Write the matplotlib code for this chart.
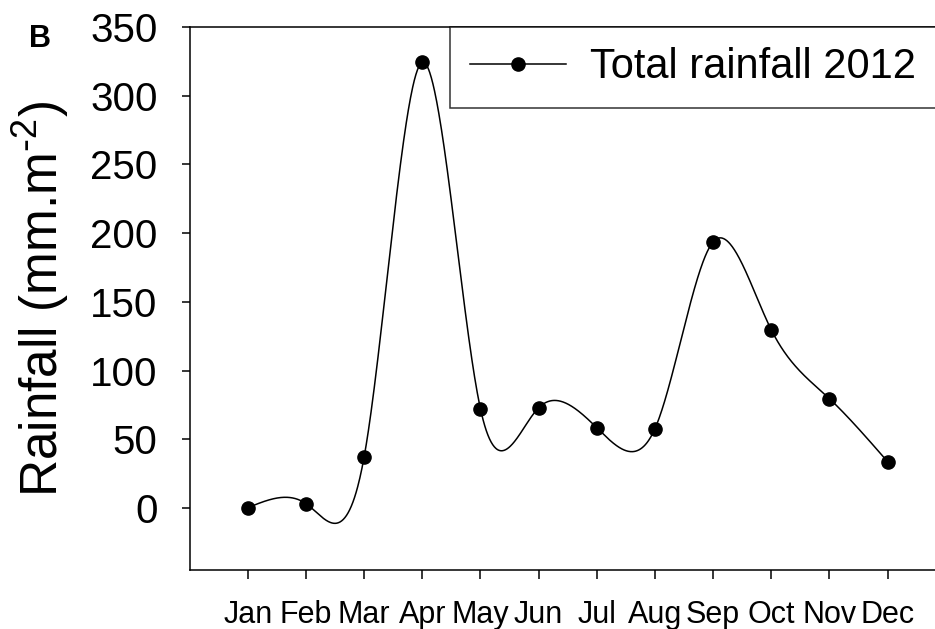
import numpy as np
import matplotlib
matplotlib.use('Agg')
import matplotlib.pyplot as plt

plt.rcParams['font.family'] = ['Liberation Sans', 'DejaVu Sans']
plt.rcParams['mathtext.default'] = 'regular'

months = ['Jan', 'Feb', 'Mar', 'Apr', 'May', 'Jun', 'Jul', 'Aug', 'Sep', 'Oct', 'Nov', 'Dec']
rainfall = [0.3, 3.3, 37.2, 324.3, 72.3, 73.0, 58.5, 57.8, 193.7, 129.7, 79.6, 33.8]
y_ticks = [0, 50, 100, 150, 200, 250, 300, 350]


def tension_spline(x, y, s=1.6, n=1200):
    # natural spline under tension, smooth curve through the monthly points
    x = np.asarray(x, float)
    y = np.asarray(y, float)
    k = len(x)
    h = np.diff(x)
    d = np.diff(y) / h
    A = np.zeros((k, k))
    r = np.zeros(k)
    A[0, 0] = 1
    A[-1, -1] = 1
    for i in range(1, k - 1):
        a0 = 1 / h[i - 1] - s / np.sinh(s * h[i - 1])
        b0 = s / np.tanh(s * h[i - 1]) - 1 / h[i - 1]
        a1 = 1 / h[i] - s / np.sinh(s * h[i])
        b1 = s / np.tanh(s * h[i]) - 1 / h[i]
        A[i, i - 1] = a0
        A[i, i] = b0 + b1
        A[i, i + 1] = a1
        r[i] = s * s * (d[i] - d[i - 1])
    M = np.linalg.solve(A, r)
    xs = np.linspace(x[0], x[-1], n)
    idx = np.clip(np.searchsorted(x, xs) - 1, 0, k - 2)
    x0, x1 = x[idx], x[idx + 1]
    hh = x1 - x0
    ys = ((M[idx] * np.sinh(s * (x1 - xs)) + M[idx + 1] * np.sinh(s * (xs - x0))) / (s * s * np.sinh(s * hh))
          + (y[idx] - M[idx] / s ** 2) * (x1 - xs) / hh
          + (y[idx + 1] - M[idx + 1] / s ** 2) * (xs - x0) / hh)
    return xs, ys


W, H = 935, 629
fig = plt.figure(figsize=(W / 100, H / 100), dpi=100)
left, right, top, bottom = 189.6, 945.8, 27, 570
ax = fig.add_axes([left / W, 1 - bottom / H, (right - left) / W, (bottom - top) / H])

x = np.arange(1, len(months) + 1)
xs, ys = tension_spline(x, rainfall)
ax.plot(xs, ys, color='black', lw=1.1)
ax.plot(x, rainfall, 'o', color='black', markersize=9.5)

# legend proxy: line with marker
ax.plot([], [], '-o', color='black', lw=1.1, markersize=9.5, label='Total rainfall 2012')

ax.set_xlim(0, 13)
ax.set_ylim(-45, 350)
ax.set_xticks(x)
ax.set_xticklabels(months, fontsize=22)
ax.set_yticks(y_ticks)
ax.set_yticklabels([str(v) for v in y_ticks], fontsize=29)
ax.tick_params(axis='x', direction='out', length=6.5, width=1.1, pad=15)
ax.tick_params(axis='y', direction='out', length=6, width=1.1, pad=17)
for s in ax.spines.values():
    s.set_linewidth(1.1)

ax.set_ylabel(r'Rainfall (mm.m$^{\text{-}2}$)', fontsize=37)
ax.yaxis.set_label_coords(-0.157, 0.5)

leg = fig.legend(loc='upper left', bbox_to_anchor=(450 / W, 1 - 27 / H),
                 fontsize=30, frameon=True, fancybox=False, edgecolor='black',
                 handlelength=2.3, handletextpad=0.58, borderpad=0.49,
                 borderaxespad=0)
leg.get_frame().set_linewidth(1.1)

fig.text(40 / W, 1 - 39 / H, 'B', fontsize=22, fontweight='bold', ha='center', va='center')

fig.savefig('out.png', dpi=100)
